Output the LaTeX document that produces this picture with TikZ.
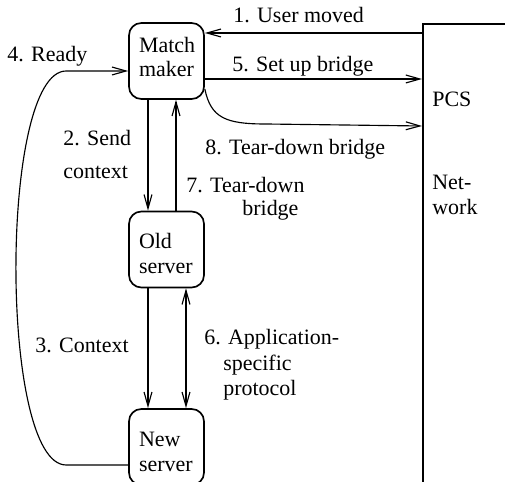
\documentclass[tikz,border=0pt]{standalone}
\usepackage{fontspec}
\setmainfont{Liberation Serif}
\newfontfamily\labelfont{Liberation Serif}
\usetikzlibrary{arrows.meta, calc}

\tikzset{
  box/.style={draw, line width=0.95pt, rounded corners=7pt, minimum width=1.5cm, minimum height=1.52cm,
    text width=1.1cm, inner xsep=0.2cm, align=left},
  lbl/.style={anchor=base west, inner sep=0pt},
  msg/.style={line width=0.65pt},
}

\begin{document}
\begin{tikzpicture}[x=0.02cm, y=-0.02cm, font=\labelfont\fontsize{12.5}{14}\selectfont,
    >={Straight Barb[length=8pt,width=4.5pt]}]
    \useasboundingbox (0,0) rectangle (505,482);
    \clip (0,0) rectangle (505,482);

    % the struts only move the text up or down inside the boxes
    \node [box] (mm) at (166.5,61) {Match\\maker\rule[-4.6pt]{0pt}{4.6pt}};
    \node [box] (old) at (166.5,249.5) {\rule{0pt}{13.5pt}Old\\server};
    \node [box] (new) at (166.5,447) {\rule{0pt}{14.1pt}New\\server};
    \node [draw, line width=1pt, minimum width=2.4cm, minimum height=9.6cm, anchor=north west] (pcs) at (422,23) {};
    \node [lbl] (pcsname) at (432,107) {PCS};
    \node [lbl] (net1) at (432,190) {Net-};
    \node [lbl] (net2) at (432,215) {work};

    % match maker <-> PCS network
    \coordinate (in1) at ($(pcs.north west)+(0,10)$);
    \draw [msg,->] (in1) -- (in1 -| mm.east);
    \node [lbl] (l1) at (233,23) {1. User moved};
    \coordinate (out5) at ($(mm.east)+(0,18)$);
    \draw [msg,->] (out5) -- (out5 -| pcs.west);
    \node [lbl] (l5) at (232,72) {5. Set up bridge};
    \coordinate (out8) at ($(mm.east)+(0,28)$);
    \coordinate (in8) at ($(out8 -| pcs.west)+(0,37)$);
    \draw [msg,->] (out8) .. controls +(6,29) and +(-40,0) .. ($(out8)+(61,35)$) -- (in8);
    \node [lbl] (l8) at (205,155) {8. Tear-down bridge};

    % match maker <-> old server
    \coordinate (out2) at ($(mm.south)+(-18.5,0)$);
    \draw [msg,->] (out2) -- (out2 |- old.north);
    \node [lbl] (l2a) at (63,146) {2. Send};
    \node [lbl] (l2b) at (63,179) {context};
    \coordinate (out7) at ($(old.north)+(9.5,0)$);
    \draw [msg,->] (out7) -- (out7 |- mm.south);
    \node [lbl] (l7a) at (186,193) {7. Tear-down};
    \node [lbl] (l7b) at (242,216) {bridge};

    % old server <-> new server
    \coordinate (out3) at ($(old.south)+(-18.5,0)$);
    \draw [msg,->] (out3) -- (out3 |- new.north);
    \node [lbl] (l3) at (35,353) {3. Context};
    \coordinate (end6) at ($(old.south)+(19.5,0)$);
    \draw [msg,<->] (end6) -- (end6 |- new.north);
    \node [lbl] (l6a) at (204,345) {6. Application-};
    \node [lbl] (l6b) at (223,371) {specific};
    \node [lbl] (l6c) at (223,396) {protocol};

    % new server back to match maker
    \coordinate (out4) at ($(new.west)+(0,18)$);
    \coordinate (in4) at ($(mm.west)+(0,10)$);
    \draw [msg,->] (out4) -- ++(-62,0) .. controls +(-67,0) and +(-67,0) .. ($(in4)+(-62,0)$) -- (in4);
    \node [lbl] (l4) at (7,62) {4. Ready};
\end{tikzpicture}
\end{document}
